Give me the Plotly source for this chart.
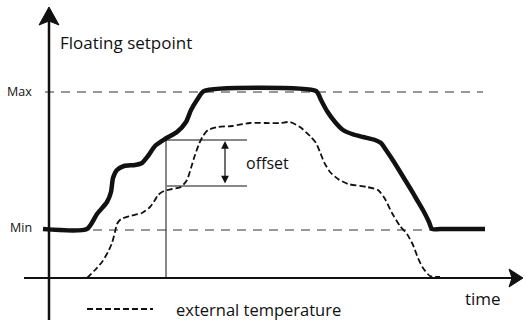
import plotly.graph_objects as go

# Floating setpoint (thick line): time vs. setpoint value
setpoint_t = [-6, 38, 48, 58, 62, 64, 68, 75, 86, 93, 99, 106, 116, 128, 137, 142, 148, 155,
              267, 272, 278, 286, 294, 303, 314, 326, 332, 337, 345, 353, 361, 368, 375, 380,
              383, 391, 436]
setpoint_v = [49, 49, 64, 76, 86, 100, 108, 112, 113, 115, 122, 132, 139, 146, 156, 168, 178, 187,
              187, 178, 167, 156, 148, 144, 141, 138, 135, 128, 116, 103, 90, 78, 66, 56,
              49, 49, 49]

# External temperature (dashed line)
ext_t = [38, 46, 53, 59, 63, 66, 68, 72, 81, 93, 101, 106, 109, 115, 123, 132, 138, 142, 146,
         150, 154, 159, 169, 183, 201, 216, 231, 241, 251, 261, 267, 271, 275, 281, 289, 299,
         318, 329, 336, 343, 351, 358, 364, 369, 374, 381, 391]
ext_v = [0, 8, 16, 26, 35, 46, 54, 59, 62, 65, 71, 78, 83, 87, 89, 91, 98, 110, 123,
         134, 142, 148, 151, 152, 155, 155, 155, 156, 151, 142, 135, 126, 116, 106, 99, 94,
         91, 88, 79, 65, 52, 44, 33, 20, 10, 2, 1]

# Limits of the floating setpoint
level_max = 186
level_min = 48
level_span = [-4, 434]

# Offset illustration: time where it is measured and the two levels
offset_t = 117
offset_top = 138
offset_bottom = 92
offset_right = 198
offset_arrow_t = 176

labels = {"y": "Floating setpoint", "x": "time", "max": "Max", "min": "Min",
          "offset": "offset", "legend": "external temperature"}

FONT = "Open Sans"
INK = "#111111"

fig = go.Figure()

fig.add_trace(go.Scatter(
    x=ext_t, y=ext_v, mode="lines",
    line=dict(color=INK, width=1.8, dash="6px,3px", shape="spline", smoothing=0.6),
    hoverinfo="skip", showlegend=False))

fig.add_trace(go.Scatter(
    x=setpoint_t, y=setpoint_v, mode="lines",
    line=dict(color=INK, width=4.5, shape="spline", smoothing=0.6),
    hoverinfo="skip", showlegend=False))

shapes = []
# Max / Min reference lines
for lvl in (level_max, level_min):
    shapes.append(dict(type="line", x0=level_span[0], x1=level_span[1], y0=lvl, y1=lvl,
                       line=dict(color="#333333", width=1.1, dash="9px,7px"), layer="below"))

# Axes with arrowheads
shapes.append(dict(type="line", x0=0, x1=0, y0=-42, y1=258, line=dict(color=INK, width=2.5)))
shapes.append(dict(type="path", path="M 0 271 L -10 253 L 0 257 L 10 253 Z",
                   fillcolor=INK, line=dict(color=INK, width=1)))
shapes.append(dict(type="line", x0=-25, x1=463, y0=0, y1=0, line=dict(color=INK, width=2)))
shapes.append(dict(type="path", path="M 474 0 L 460 9 L 463 0 L 460 -9 Z",
                   fillcolor=INK, line=dict(color=INK, width=1)))

# Offset construction lines
shapes.append(dict(type="line", x0=offset_t, x1=offset_t, y0=0, y1=offset_top,
                   line=dict(color=INK, width=1)))
shapes.append(dict(type="line", x0=offset_t, x1=offset_right, y0=offset_top, y1=offset_top,
                   line=dict(color=INK, width=1)))
shapes.append(dict(type="line", x0=offset_t + 1, x1=offset_right, y0=offset_bottom, y1=offset_bottom,
                   line=dict(color=INK, width=1)))

# Legend sample line
shapes.append(dict(type="line", x0=38, x1=104, y0=-31, y1=-31,
                   line=dict(color=INK, width=1.8, dash="6px,3px")))

fig.update_layout(shapes=shapes)

annotations = [
    dict(x=offset_arrow_t, y=offset_top - 1, ax=offset_arrow_t, ay=offset_bottom + 1,
         xref="x", yref="y", axref="x", ayref="y", text="", showarrow=True,
         arrowhead=2, startarrowhead=2, arrowside="end+start", arrowsize=1.3,
         arrowwidth=1.2, arrowcolor=INK),
    dict(x=offset_right - 2, y=(offset_top + offset_bottom) / 2, text=labels["offset"],
         xanchor="left", yanchor="middle", showarrow=False, borderpad=0,
         font=dict(family=FONT, size=16, color=INK)),
    dict(x=10, y=236, text=labels["y"], xanchor="left", yanchor="middle", showarrow=False,
         borderpad=0, font=dict(family=FONT, size=17, color=INK)),
    dict(x=-16, y=level_max + 1, text=labels["max"], xanchor="right", yanchor="middle",
         showarrow=False, borderpad=0, font=dict(family=FONT, size=12.5, color=INK)),
    dict(x=-16, y=level_min + 3, text=labels["min"], xanchor="right", yanchor="middle",
         showarrow=False, borderpad=0, font=dict(family=FONT, size=12.5, color=INK)),
    dict(x=434, y=-20, text=labels["x"], xanchor="center", yanchor="middle",
         showarrow=False, borderpad=0, font=dict(family=FONT, size=17, color=INK)),
    dict(x=126, y=-31, text=labels["legend"], xanchor="left", yanchor="middle",
         showarrow=False, borderpad=0, font=dict(family=FONT, size=16.5, color=INK)),
]
fig.update_layout(annotations=annotations)

fig.update_layout(
    width=525, height=320,
    margin=dict(l=0, r=0, t=0, b=0),
    paper_bgcolor="white", plot_bgcolor="white",
    xaxis=dict(range=[-49, 476], visible=False, fixedrange=True),
    yaxis=dict(range=[-42, 278], visible=False, fixedrange=True),
    showlegend=False,
)

fig.write_html("out.html", config={"displayModeBar": False})
